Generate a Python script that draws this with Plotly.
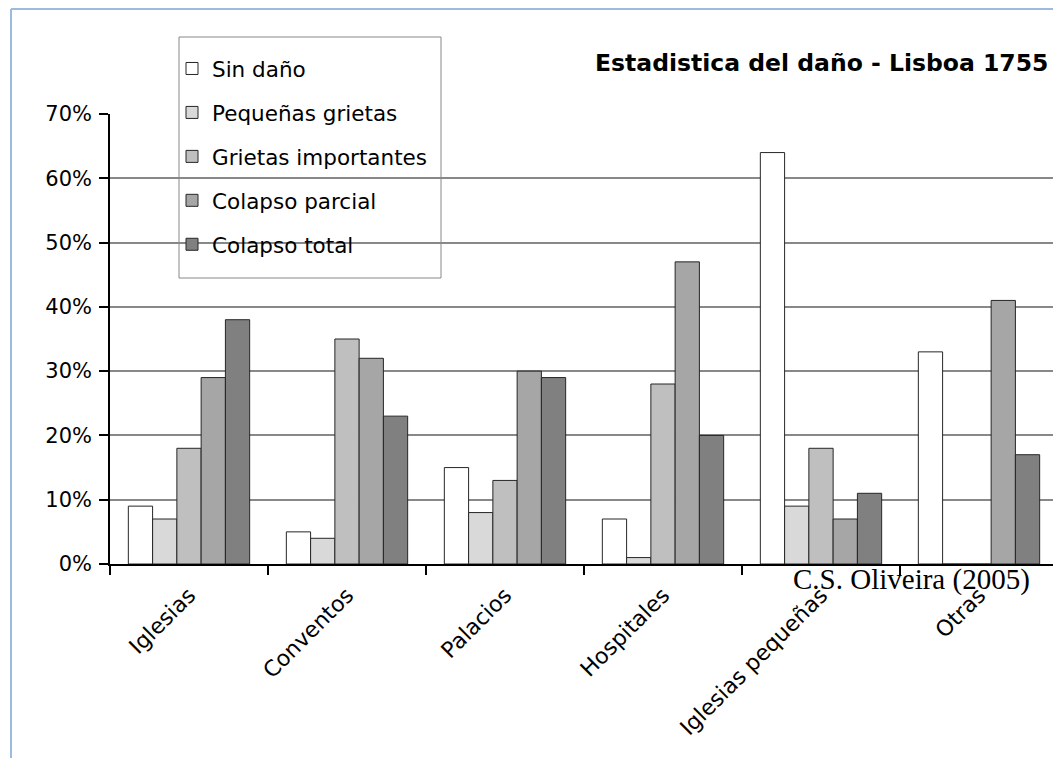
import plotly.graph_objects as go

categories = ["Iglesias", "Conventos", "Palacios", "Hospitales", "Iglesias pequeñas", "Otras"]
series_names = ["Sin daño", "Pequeñas grietas", "Grietas importantes", "Colapso parcial", "Colapso total"]
sin_dano = [9, 5, 15, 7, 64, 33]
pequenas_grietas = [7, 4, 8, 1, 9, 0]
grietas_importantes = [18, 35, 13, 28, 18, 0]
colapso_parcial = [29, 32, 30, 47, 7, 41]
colapso_total = [38, 23, 29, 20, 11, 17]
y_ticks = [0, 10, 20, 30, 40, 50, 60, 70]
y_tick_labels = ["0%", "10%", "20%", "30%", "40%", "50%", "60%", "70%"]

series_values = [sin_dano, pequenas_grietas, grietas_importantes, colapso_parcial, colapso_total]
colors = ["#ffffff", "#d9d9d9", "#bfbfbf", "#a6a6a6", "#808080"]

# page has an 8px body margin: figure occupies page pixels 8..1061 x 8..758
OFF = 8
W, H = 1061 - OFF, 758 - OFF
ML, MR, MT, MB = 110 - OFF, 3, 114 - OFF, 194
PW, PH = W - ML - MR, H - MT - MB


def px_x(x):
    return (x - OFF - ML) / PW


def px_y(y):
    return (H - MB - (y - OFF)) / PH


font_sans = "DejaVu Sans, sans-serif"

fig = go.Figure()
for i, (name, vals, col) in enumerate(zip(series_names, series_values, colors)):
    fig.add_trace(go.Bar(
        x=categories, y=vals, name=name, legendgroup=f"g{i}",
        marker=dict(color=col, line=dict(color="#262626", width=1)),
    ))

fig.update_layout(
    width=W, height=H,
    margin=dict(l=ML, r=MR, t=MT, b=MB),
    paper_bgcolor="white", plot_bgcolor="white",
    barmode="group", bargap=0.232, bargroupgap=0,
    font=dict(family=font_sans, size=20, color="black"),
    showlegend=True,
    legend=dict(
        x=px_x(172), y=px_y(48), xanchor="left", yanchor="top",
        bgcolor="rgba(0,0,0,0)", borderwidth=0,
        font=dict(family=font_sans, size=21.5, color="black"),
        tracegroupgap=13, traceorder="grouped",
    ),
    xaxis=dict(
        type="category", showline=True, linecolor="black", linewidth=1.5,
        ticks="outside", tickson="boundaries", ticklen=9, tickcolor="black", tickwidth=1.5,
        tickangle=-45, showgrid=False,
        tickfont=dict(family=font_sans, size=22, color="black"),
        ticklabelstandoff=8,
    ),
    yaxis=dict(
        range=[0, 70], tickvals=y_ticks, ticktext=y_tick_labels,
        showline=True, linecolor="black", linewidth=1.5,
        ticks="outside", ticklen=9, tickcolor="black", tickwidth=1.5,
        showgrid=True, gridcolor="#888888", gridwidth=1.5, zeroline=False,
        tickfont=dict(family=font_sans, size=21, color="black"),
        ticklabelstandoff=3,
    ),
    annotations=[
        dict(text="<b>Estadistica del daño - Lisboa 1755</b>", xref="paper", yref="paper",
             x=px_x(1050), y=px_y(63), xanchor="right", yanchor="middle", showarrow=False,
             font=dict(family=font_sans, size=23.5, color="black")),
        dict(text="C.S. Oliveira (2005)", xref="paper", yref="paper",
             x=px_x(1032), y=px_y(579), xanchor="right", yanchor="middle", showarrow=False,
             font=dict(family="Liberation Serif, serif", size=29, color="black")),
    ],
    shapes=[
        dict(type="rect", xref="paper", yref="paper", layer="between",
             x0=px_x(179), x1=px_x(441), y0=px_y(37), y1=px_y(278),
             fillcolor="white", line=dict(color="#888888", width=1)),
        dict(type="line", xref="paper", yref="paper", x0=px_x(11), x1=px_x(11),
             y0=px_y(9), y1=px_y(800), line=dict(color="#9dbbe1", width=2)),
        dict(type="line", xref="paper", yref="paper", x0=px_x(11), x1=px_x(1100),
             y0=px_y(9), y1=px_y(9), line=dict(color="#9dbbe1", width=2)),
    ],
)

fig.write_html("out.html")
